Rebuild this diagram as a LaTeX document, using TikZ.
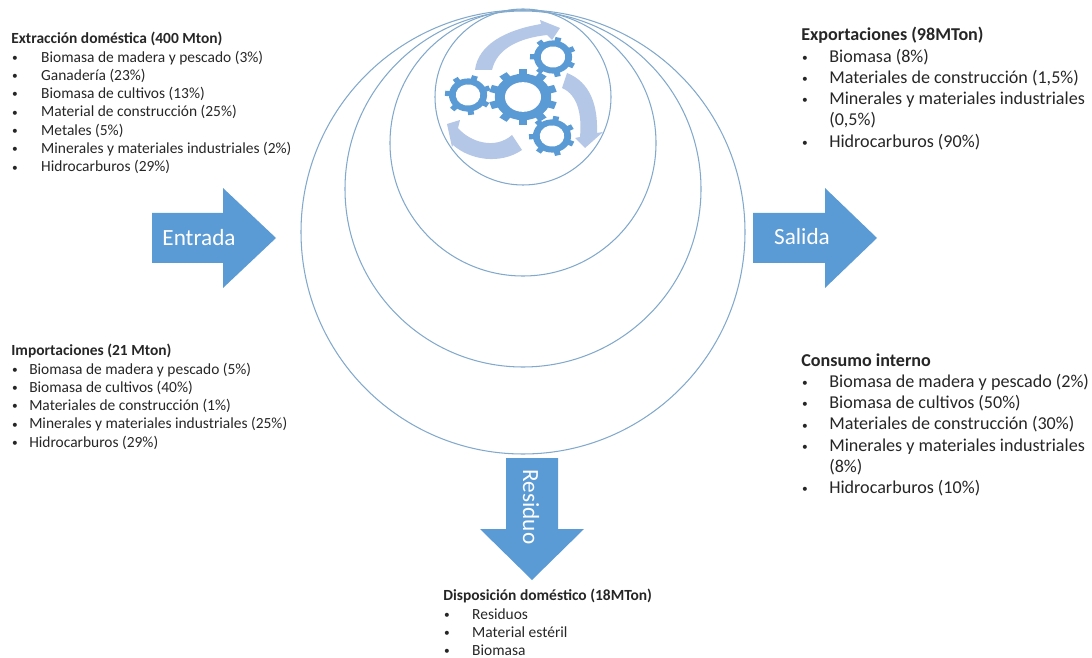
\documentclass[tikz,border=0pt]{standalone}
\usepackage{fontspec}
\setmainfont{Carlito}
\newcommand{\blt}[1]{\makebox[#1][l]{\hspace{0.5pt}\raisebox{0.4pt}{\fontsize{6.5}{6.5}\selectfont\textbullet}}}
\definecolor{flowblue}{HTML}{5B9BD5}
\definecolor{ringblue}{HTML}{82A9CC}
\definecolor{cycleblue}{HTML}{B4C7E7}
\tikzset{
	ring/.style={draw=ringblue, line width=0.6pt},
	flowarrow/.style={fill=flowblue},
	cyclearrow/.style={fill=cycleblue},
	flowlabel/.style={text=white, font=\fontsize{13.2}{15}\selectfont},
	smallblock/.style={anchor=north west, align=left, inner sep=0pt, text=black!85, font=\fontsize{8.8}{10.4}\selectfont},
	largeblock/.style={anchor=north west, align=left, inner sep=0pt, text=black!85, font=\fontsize{10.3}{12.1}\selectfont},
	gear/.pic={
		\fill[flowblue] (0,0) circle[radius=0.83];
		\pgfmathsetmacro{\gearstep}{360/#1}
		\foreach \n in {1,...,#1} {
			\fill[flowblue, rotate=\n*\gearstep] (-0.13,0.5) rectangle (0.13,1);
		}
		\fill[white] (0,0) circle[radius=0.53];
	}
}
\begin{document}
\begin{tikzpicture}[x=0.02cm, y=-0.02cm]
	\useasboundingbox (0,0) rectangle (1092,658);
	% rings
	\draw[ring] (523,232) circle[radius=222];
	\draw[ring] (523,189) circle[radius=178];
	\draw[ring] (523,143) circle[radius=133];
	\draw[ring] (523,97) circle[radius=88];
	% cycle arrows
	\fill[cyclearrow] (475,70) .. controls (478,45) and (505,30) .. (541,24) -- (540,20) -- (560,28) -- (552,40) -- (547,35) .. controls (520,38) and (497,48) .. (492,70) -- cycle;
	\fill[cyclearrow] (567,73) .. controls (590,82) and (598,105) .. (597,133) -- (603,132) -- (585,148) -- (575,138) -- (580,137) .. controls (582,115) and (578,95) .. (562,88) -- cycle;
	\fill[cyclearrow] (522,150) .. controls (500,165) and (470,160) .. (453,145) -- (452,147) -- (447,124) -- (460,120) -- (458,128) .. controls (470,142) and (495,150) .. (512,135) -- cycle;
	% gears
	\pic[xscale=34, yscale=28] at (523,97) {gear=10};
	\pic[xscale=23, yscale=20, rotate=12] at (553,57) {gear=7};
	\pic[xscale=23, yscale=20, rotate=8] at (468,95) {gear=7};
	\pic[xscale=23, yscale=20, rotate=15] at (552,136) {gear=7};
	% flow arrows
	\fill[flowarrow] (152,213) -- (223,213) -- (223,188) -- (276,238) -- (223,288) -- (223,263) -- (152,263) -- cycle;
	\fill[flowarrow] (753,213) -- (825,213) -- (825,188) -- (877,238) -- (825,288) -- (825,263) -- (753,263) -- cycle;
	\fill[flowarrow] (506,458) -- (558,458) -- (558,529) -- (584,529) -- (532,580) -- (480,529) -- (506,529) -- cycle;
	\node[flowlabel] (entrada) at (199,238) {Entrada};
	\node[flowlabel] (salida) at (802,237) {Salida};
	\node[flowlabel, rotate=-90] (residuo) at (531,507) {Residuo};
	% texts
	\node[smallblock] (extraccion) at (11,32) {\textbf{Extracción doméstica (400 Mton)}\\
		\blt{17pt}Biomasa de madera y pescado (3\%)\\
		\blt{17pt}Ganadería (23\%)\\
		\blt{17pt}Biomasa de cultivos (13\%)\\
		\blt{17pt}Material de construcción (25\%)\\
		\blt{17pt}Metales (5\%)\\
		\blt{17pt}Minerales y materiales industriales (2\%)\\
		\blt{17pt}Hidrocarburos (29\%)};
	\node[smallblock] (importaciones) at (11,344) {\textbf{Importaciones (21 Mton)}\\
		\blt{10.2pt}Biomasa de madera y pescado (5\%)\\
		\blt{10.2pt}Biomasa de cultivos (40\%)\\
		\blt{10.2pt}Materiales de construcción (1\%)\\
		\blt{10.2pt}Minerales y materiales industriales (25\%)\\
		\blt{10.2pt}Hidrocarburos (29\%)};
	\node[largeblock] (exportaciones) at (801,27) {\textbf{Exportaciones (98MTon)}\\
		\blt{15.9pt}Biomasa (8\%)\\
		\blt{15.9pt}Materiales de construcción (1,5\%)\\
		\blt{15.9pt}Minerales y materiales industriales\\
		\makebox[15.9pt]{}(0,5\%)\\
		\blt{15.9pt}Hidrocarburos (90\%)};
	\node[largeblock] (consumo) at (801,353) {\textbf{Consumo interno}\\
		\blt{15.9pt}Biomasa de madera y pescado (2\%)\\
		\blt{15.9pt}Biomasa de cultivos (50\%)\\
		\blt{15.9pt}Materiales de construcción (30\%)\\
		\blt{15.9pt}Minerales y materiales industriales\\
		\makebox[15.9pt]{}(8\%)\\
		\blt{15.9pt}Hidrocarburos (10\%)};
	\node[smallblock] (disposicion) at (443,589) {\textbf{Disposición doméstico (18MTon)}\\
		\blt{16.4pt}Residuos\\
		\blt{16.4pt}Material estéril\\
		\blt{16.4pt}Biomasa};
\end{tikzpicture}
\end{document}
